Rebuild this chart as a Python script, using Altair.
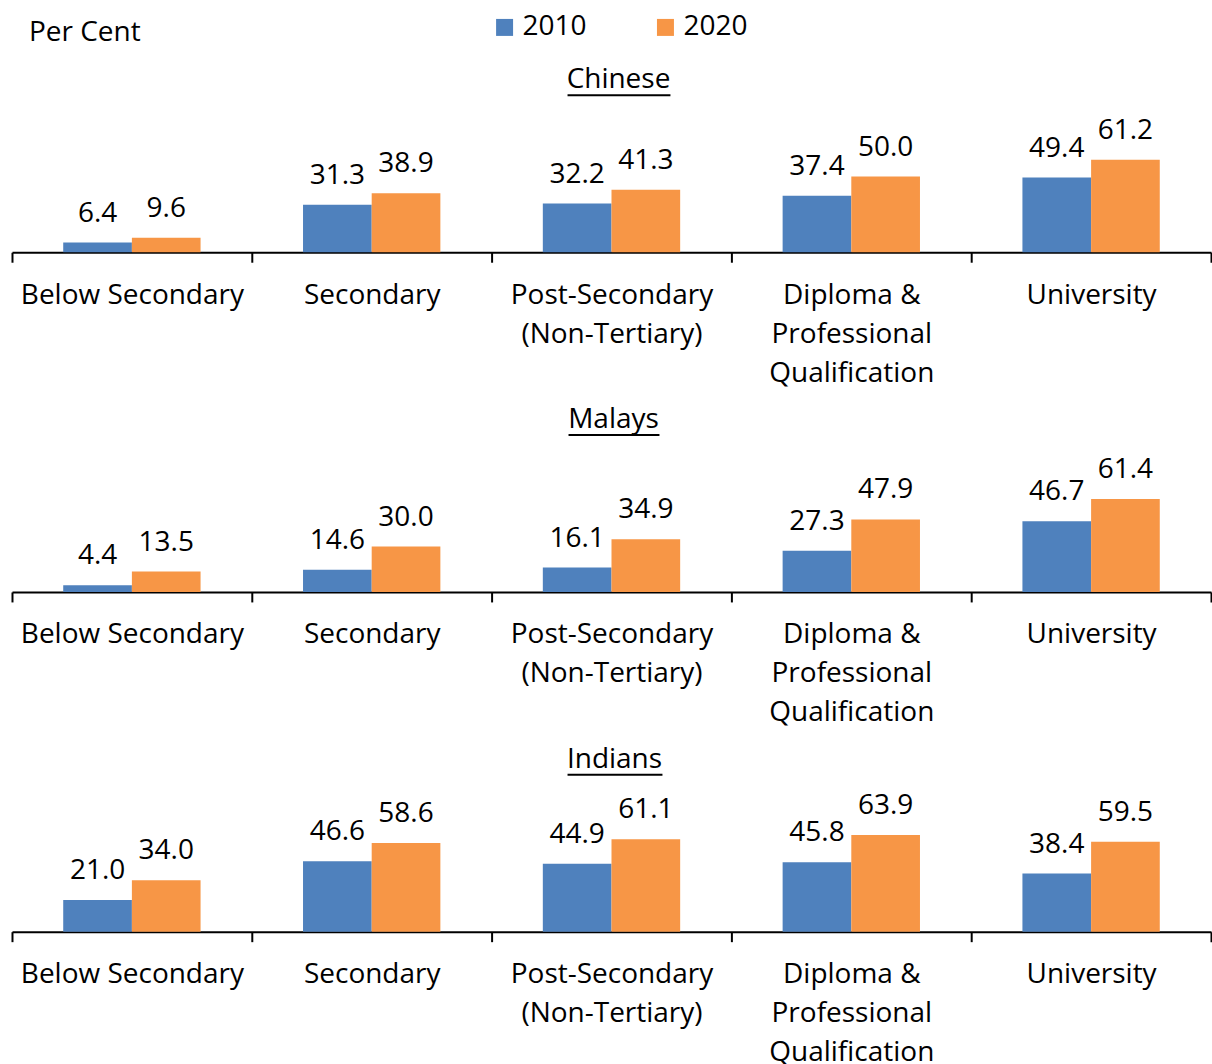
import altair as alt
import pandas as pd

# Education levels (a "|" marks a line break in the axis label)
categories = [
    "Below Secondary",
    "Secondary",
    "Post-Secondary|(Non-Tertiary)",
    "Diploma &|Professional|Qualification",
    "University",
]
years = ["2010", "2020"]

chinese_2010 = [6.4, 31.3, 32.2, 37.4, 49.4]
chinese_2020 = [9.6, 38.9, 41.3, 50.0, 61.2]
malays_2010 = [4.4, 14.6, 16.1, 27.3, 46.7]
malays_2020 = [13.5, 30.0, 34.9, 47.9, 61.4]
indians_2010 = [21.0, 46.6, 44.9, 45.8, 38.4]
indians_2020 = [34.0, 58.6, 61.1, 63.9, 59.5]

groups = [
    ("Chinese", chinese_2010, chinese_2020),
    ("Malays", malays_2010, malays_2020),
    ("Indians", indians_2010, indians_2020),
]

FONT = "Open Sans"
FS = 28
BLUE = "#4F81BD"
ORANGE = "#F79646"
W = 1200
H = 106

# horizontal extent of the underline below each panel heading
underline = {"Chinese": (556, 659), "Malays": (557, 648), "Indians": (556, 651)}
heading_x = {"Chinese": 607, "Malays": 602, "Indians": 603}


def panel(name, v2010, v2020, first):
    rows = []
    for c, a, b in zip(categories, v2010, v2020):
        rows.append({"Category": c, "Year": "2010", "Value": a})
        rows.append({"Category": c, "Year": "2020", "Value": b})
    df = pd.DataFrame(rows)

    x = alt.X(
        "Category:N",
        sort=categories,
        scale=alt.Scale(paddingInner=0, paddingOuter=0),
        axis=alt.Axis(
            title=None,
            labelAngle=0,
            labelExpr="split(datum.label, '|')",
            labelFont=FONT,
            labelFontSize=FS,
            labelColor="black",
            labelLineHeight=39,
            labelBaseline="alphabetic",
            labelPadding=41,
            labelLimit=0,
            labelOverlap=False,
            labelFlush=False,
            domainColor="black",
            domainWidth=2,
            tickColor="black",
            tickWidth=2,
            tickSize=10,
            tickBand="extent",
            grid=False,
        ),
    )
    xo = alt.XOffset("Year:N", sort=years, scale=alt.Scale(paddingOuter=0.746, paddingInner=0))
    y = alt.Y("Value:Q", scale=alt.Scale(domain=[0, 70]), axis=None)
    color = alt.Color(
        "Year:N",
        sort=years,
        scale=alt.Scale(domain=years, range=[BLUE, ORANGE]),
        legend=alt.Legend(
            title=None,
            orient="none",
            legendX=479,
            legendY=-133,
            direction="horizontal",
            symbolType="square",
            symbolSize=289,
            symbolStrokeWidth=0,
            symbolOpacity=1,
            labelFont=FONT,
            labelFontSize=FS,
            labelColor="black",
            labelOffset=4,
            columnPadding=64,
            padding=0,
        ),
    )

    base = alt.Chart(df)
    bars = base.mark_bar().encode(x=x, xOffset=xo, y=y, color=color)
    values = base.mark_text(
        baseline="alphabetic", dy=-21, font=FONT, fontSize=FS, color="black"
    ).encode(x=x, xOffset=xo, y=y, text=alt.Text("Value:Q", format=".1f"))

    head_df = pd.DataFrame({"t": [name]})
    heading = alt.Chart(head_df).mark_text(
        font=FONT, fontSize=FS, color="black", baseline="middle", align="center"
    ).encode(x=alt.value(heading_x[name]), y=alt.value(-66), text="t:N")
    x0, x1 = underline[name]
    rule = alt.Chart(head_df).mark_rule(color="black", strokeWidth=2).encode(
        x=alt.value(x0), x2=alt.value(x1), y=alt.value(-51)
    )
    layers = [bars, values, heading, rule]
    if first:
        pc = alt.Chart(pd.DataFrame({"t": ["Per Cent"]})).mark_text(
            font=FONT, fontSize=FS, color="black", baseline="middle", align="left"
        ).encode(x=alt.value(17), y=alt.value(-113), text="t:N")
        layers.append(pc)
    return alt.layer(*layers).properties(width=W, height=H)


chart = (
    alt.vconcat(*[panel(n, a, b, i == 0) for i, (n, a, b) in enumerate(groups)])
    .properties(
        spacing=234,
        bounds="flush",
        background="white",
        padding={"left": 11, "top": 13, "right": 0, "bottom": 0},
    )
    .configure_view(strokeWidth=0, stroke=None)
)

chart.save("out.html", embed_options={"renderer": "svg", "actions": False})
